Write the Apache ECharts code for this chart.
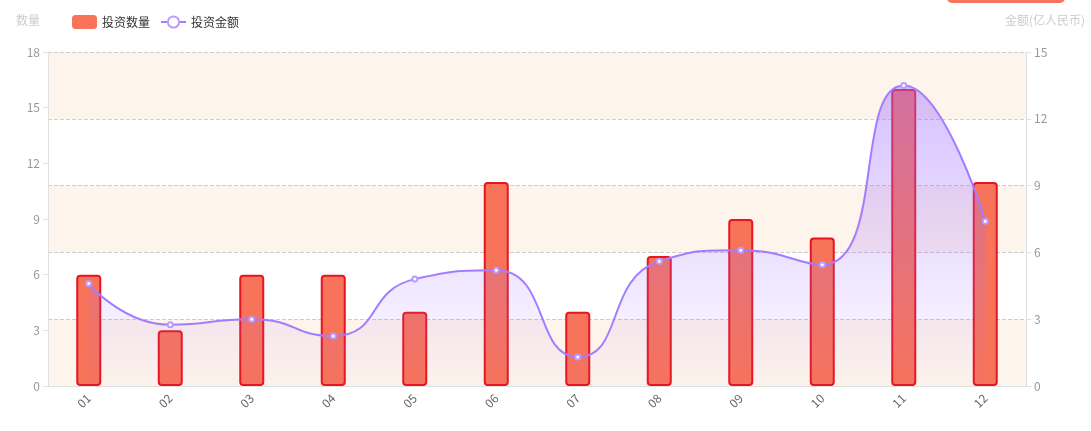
<!DOCTYPE html>
<html>
<head>
<meta charset="utf-8">
<script src="https://cdn.jsdelivr.net/npm/echarts@6/dist/echarts.min.js"></script>
<style>html,body{margin:0;padding:0;background:#fff}#c{width:1091px;height:431px}</style>
</head>
<body>
<div id="c"></div>
<script>
const months = ['01','02','03','04','05','06','07','08','09','10','11','12'];
const investCount = [6, 3, 6, 6, 4, 11, 4, 7, 9, 8, 16, 11];
const investAmount = [4.6, 2.75, 3.0, 2.25, 4.8, 5.2, 1.3, 5.6, 6.1, 5.45, 13.5, 7.4];
const countName = '投资数量';
const amountName = '投资金额';
const leftAxisName = '数量';
const rightAxisName = '金额(亿人民币)';

const chart = echarts.init(document.getElementById('c'));
const font = '"Noto Sans CJK SC", "Noto Sans", sans-serif';
chart.setOption({
  animation: false,
  textStyle: { fontFamily: font },
  graphic: [{
    type: 'rect', shape: { x: 947, y: -20, width: 118, height: 23, r: 5 },
    style: { fill: '#f7735a' }
  }],
  legend: {
    left: 67, top: 10, itemWidth: 25, itemHeight: 14, itemGap: 10,
    textStyle: { color: '#333', fontSize: 12, fontFamily: font },
    data: [
      { name: countName, itemStyle: { borderWidth: 0, color: '#f7735a' } },
      { name: amountName }
    ]
  },
  grid: { left: 48, right: 65, top: 52, bottom: 45 },
  xAxis: {
    type: 'category', data: months,
    axisLine: { lineStyle: { color: '#e0e0e0' } },
    axisTick: { lineStyle: { color: '#e0e0e0' } },
    axisLabel: { color: '#666', rotate: 45, fontSize: 12, margin: 10 }
  },
  yAxis: [{
    type: 'value', min: 0, max: 18, interval: 3,
    name: leftAxisName, nameGap: 26,
    nameTextStyle: { color: '#ccc', fontSize: 12, padding: [0, 40, 0, 0] },
    axisLine: { show: true, lineStyle: { color: '#e0e0e0' } },
    axisTick: { show: true, lineStyle: { color: '#e0e0e0' } },
    axisLabel: { color: '#999', fontSize: 12 },
    splitLine: { show: false }
  }, {
    type: 'value', min: 0, max: 15, interval: 3,
    name: rightAxisName, nameGap: 26,
    nameTextStyle: { color: '#ccc', fontSize: 12, padding: [0, 0, 0, 38] },
    axisLine: { show: true, lineStyle: { color: '#e0e0e0' } },
    axisTick: { show: true, lineStyle: { color: '#e0e0e0' } },
    axisLabel: { color: '#999', fontSize: 12 },
    splitLine: { show: true, lineStyle: { color: '#ccc', type: 'dashed' } },
    splitArea: { show: true, areaStyle: { color: ['#fdf4eb', '#ffffff'] } }
  }],
  series: [{
    name: countName, type: 'bar', yAxisIndex: 0, data: investCount,
    barWidth: 25,
    itemStyle: { color: '#f7735a', borderColor: '#e8141f', borderWidth: 2, borderRadius: 3 }
  }, {
    name: amountName, type: 'line', yAxisIndex: 1, data: investAmount,
    smooth: 0.55, symbol: 'emptyCircle', symbolSize: 5,
    lineStyle: { color: '#a47cff', width: 2 },
    itemStyle: { color: '#b89cff', borderColor: '#c9b4ff', borderWidth: 1.5 },
    areaStyle: {
      color: new echarts.graphic.LinearGradient(0, 0, 0, 1, [
        { offset: 0, color: 'rgba(160,110,255,0.62)' },
        { offset: 1, color: 'rgba(160,110,255,0.02)' }
      ])
    }
  }]
});
</script>
</body>
</html>
